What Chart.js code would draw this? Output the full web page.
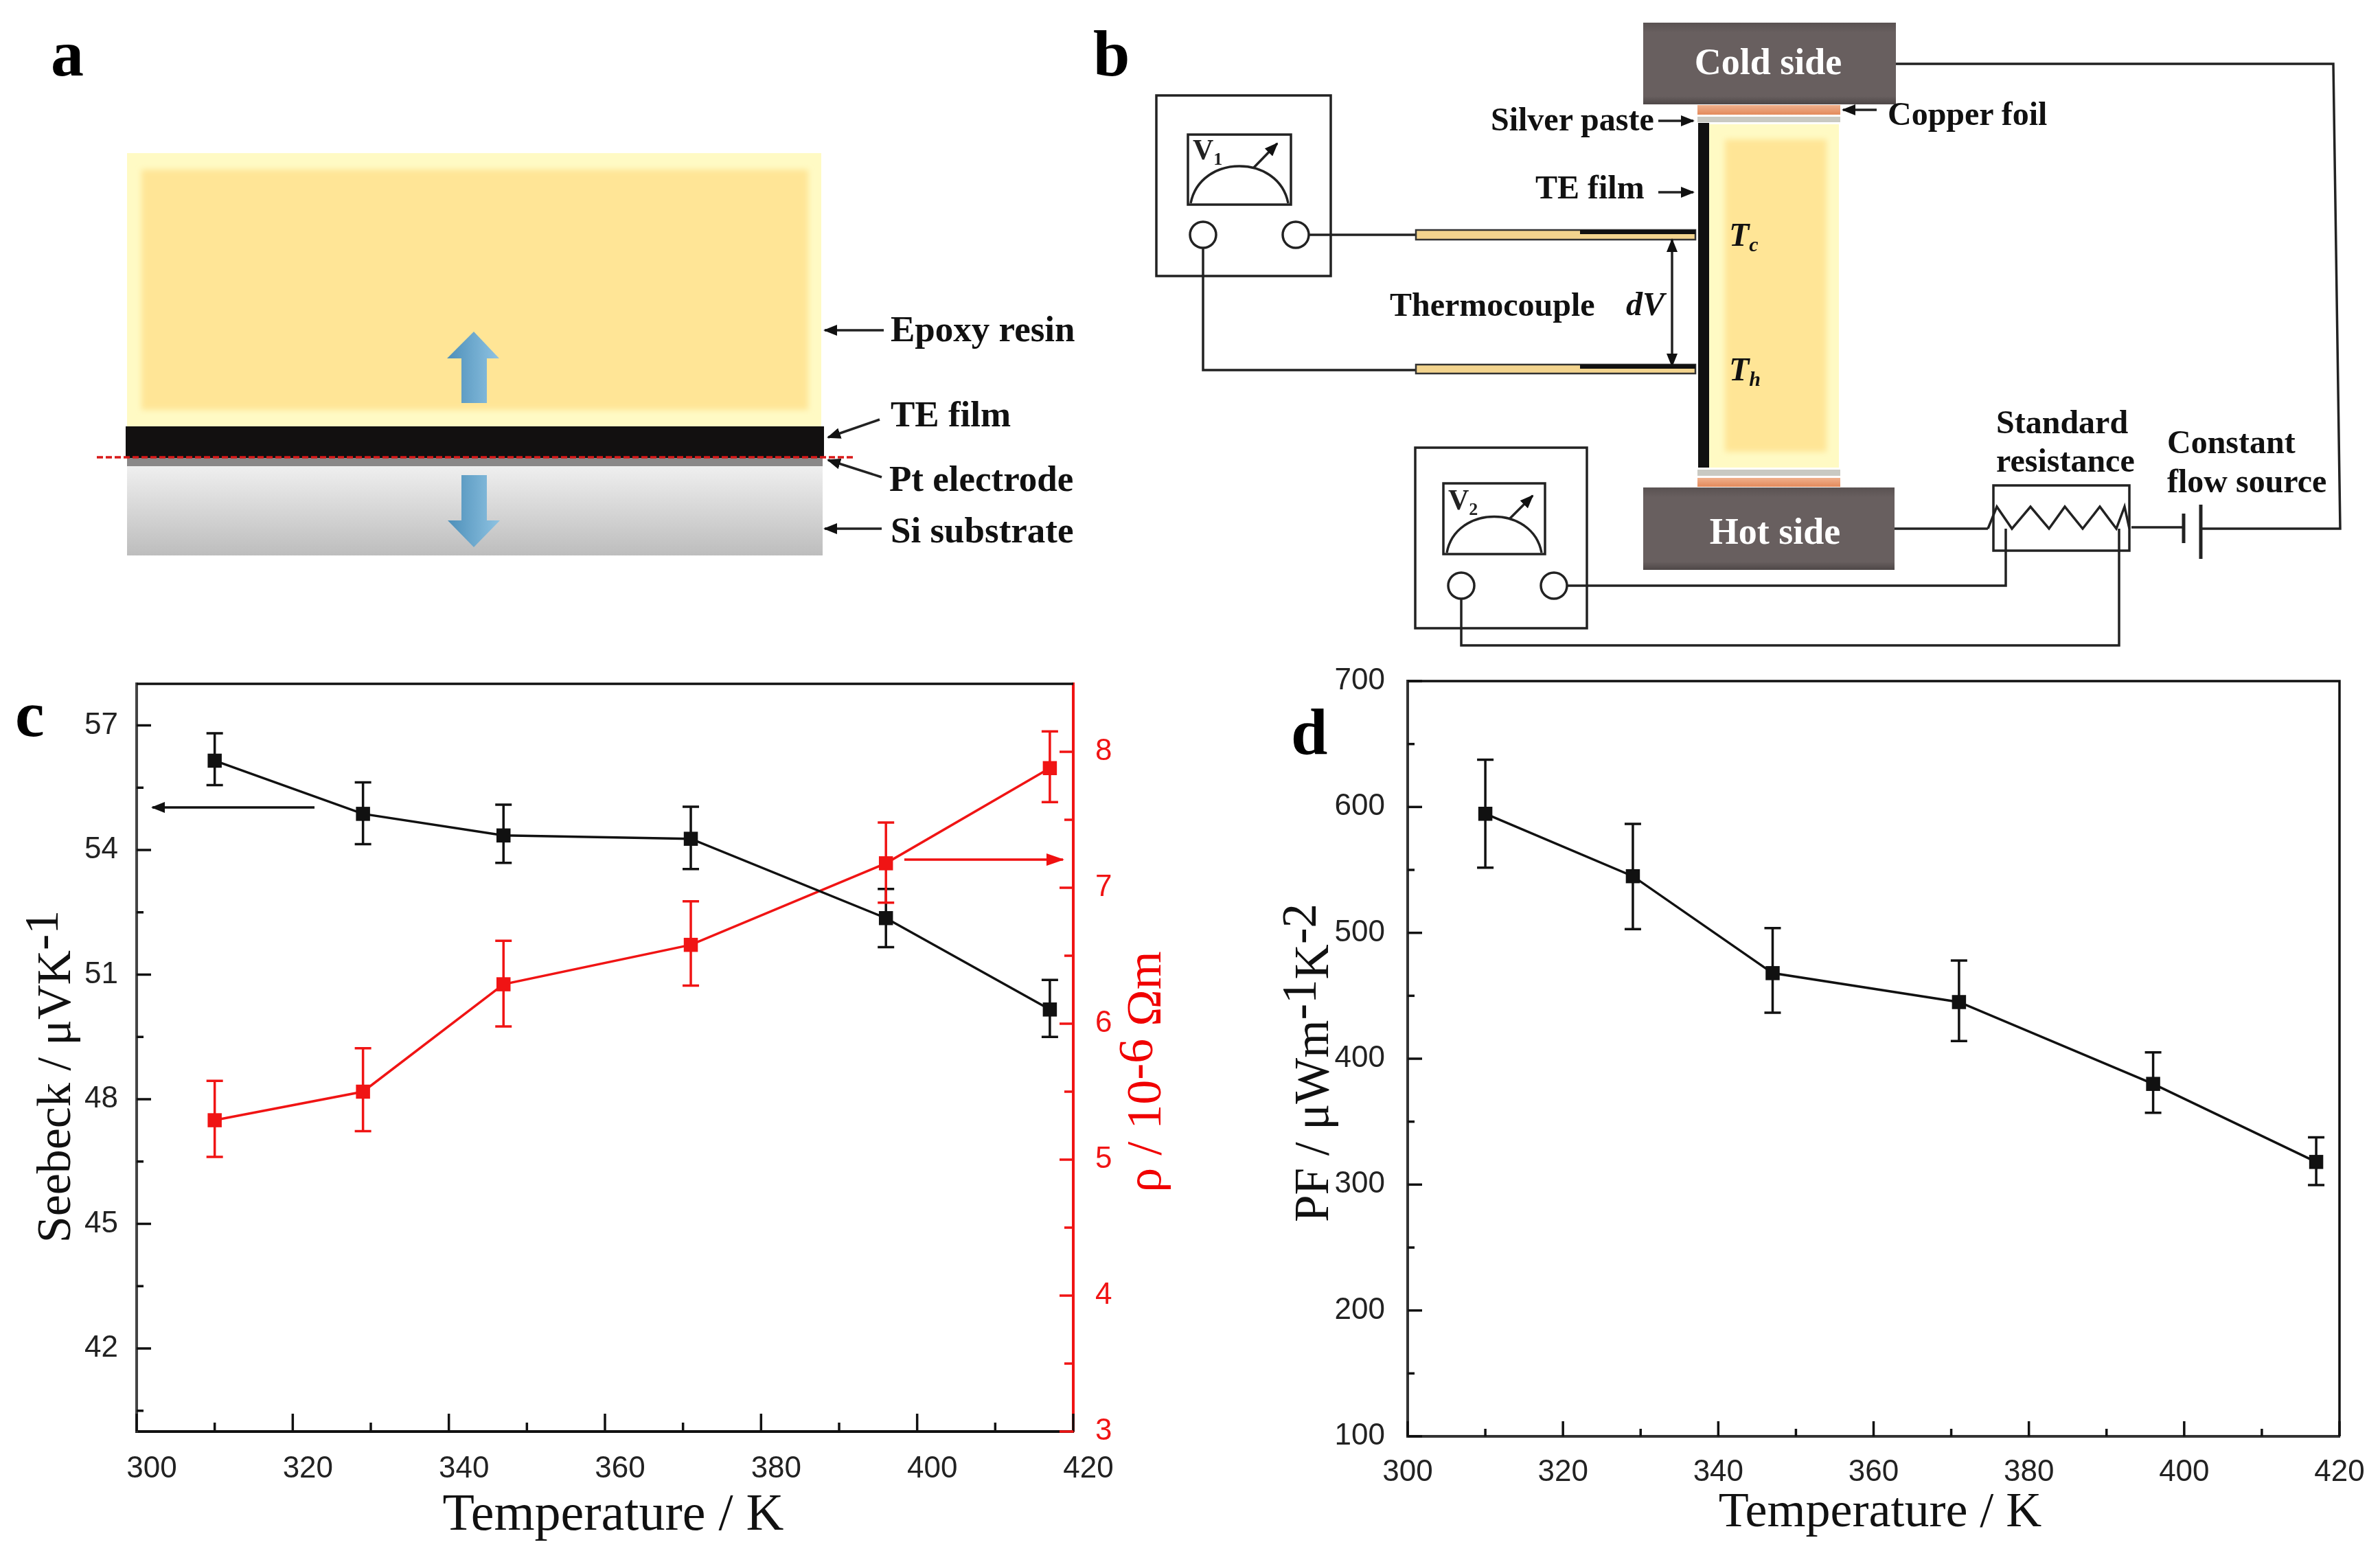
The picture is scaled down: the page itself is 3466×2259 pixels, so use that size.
<!DOCTYPE html>
<html>
<head>
<meta charset="utf-8">
<title>Thermoelectric film measurements</title>
<script src="https://cdn.jsdelivr.net/npm/chart.js@4"></script>
<style>
  html, body { margin: 0; background: #fff; }
  #page { position: relative; width: 3466px; height: 2259px; overflow: hidden; background: #fff; }
  canvas { position: absolute; }
  #chart-c { left: 0; top: 960px; }
  #chart-d { left: 1780px; top: 960px; }
  #overlay { position: absolute; left: 0; top: 0; pointer-events: none; }
  #overlay text { font-family: "Liberation Serif", serif; }
  .letter { font-size: 96px; font-weight: bold; }
  .lb { font-size: 53px; font-weight: bold; fill: #111; }
  .lb2 { font-size: 48px; font-weight: bold; fill: #111; }
  .it { font-size: 48px; font-weight: bold; font-style: italic; fill: #111; }
  .side { font-size: 54px; font-weight: bold; fill: #fff; text-anchor: middle; }
  .vm { font-size: 42px; font-weight: bold; fill: #222; }
  .ax { font-size: 72px; fill: #111; text-anchor: middle; }
  .w { fill: none; stroke: #222; stroke-width: 3.5; }
</style>
</head>
<body>
<div id="page">
  <canvas id="chart-c" width="1780" height="1299"></canvas>
  <canvas id="chart-d" width="1686" height="1299"></canvas>

  <svg id="overlay" width="3466" height="2259" viewBox="0 0 3466 2259">
    <defs>
      <marker id="ak" markerUnits="userSpaceOnUse" markerWidth="20" markerHeight="16" refX="18" refY="8" orient="auto-start-reverse">
        <path d="M0 0 L20 8 L0 16 Z" fill="#111"/>
      </marker>
      <marker id="ar" markerUnits="userSpaceOnUse" markerWidth="26" markerHeight="18" refX="24" refY="9" orient="auto">
        <path d="M0 0 L26 9 L0 18 Z" fill="#f01010"/>
      </marker>
      <linearGradient id="si" x1="0" y1="0" x2="0" y2="1">
        <stop offset="0" stop-color="#efefef"/><stop offset="1" stop-color="#bdbdbd"/>
      </linearGradient>
      <linearGradient id="blue" x1="0" y1="0" x2="1" y2="0">
        <stop offset="0" stop-color="#4d8fb9"/><stop offset="1" stop-color="#8fc3e2"/>
      </linearGradient>
      <linearGradient id="block" x1="0" y1="0" x2="0" y2="1">
        <stop offset="0" stop-color="#5a5252"/><stop offset="0.12" stop-color="#685f5f"/>
        <stop offset="0.9" stop-color="#685f5f"/><stop offset="1" stop-color="#4e4747"/>
      </linearGradient>
      <linearGradient id="copper" x1="0" y1="0" x2="0" y2="1">
        <stop offset="0" stop-color="#f0b08c"/><stop offset="1" stop-color="#e38a5c"/>
      </linearGradient>
      <filter id="soft" x="-5%" y="-5%" width="110%" height="110%">
        <feGaussianBlur stdDeviation="4"/>
      </filter>
    </defs>

    <!-- panel a -->
    <text class="letter" x="74" y="110">a</text>
    <rect x="185" y="223" width="1011" height="398" fill="#fffac4"/>
    <rect x="206" y="247" width="971" height="350" fill="#ffe596" filter="url(#soft)"/>
    <rect x="183" y="621" width="1017" height="46" fill="#121010"/>
    <rect x="185" y="667" width="1013" height="12" fill="#8a8888"/>
    <rect x="185" y="679" width="1013" height="130" fill="url(#si)"/>
    <line x1="141" y1="666" x2="1246" y2="666" stroke="#d81818" stroke-width="3.5" stroke-dasharray="9 4"/>
    <path d="M690 483 L727 522 L709 522 L709 587 L672 587 L672 522 L651 522 Z" fill="url(#blue)"/>
    <path d="M690 797 L728 758 L709 758 L709 692 L672 692 L672 758 L652 758 Z" fill="url(#blue)"/>
    <line class="w" x1="1287" y1="481" x2="1201" y2="481" marker-end="url(#ak)"/>
    <line class="w" x1="1281" y1="611" x2="1206" y2="637" marker-end="url(#ak)"/>
    <line class="w" x1="1284" y1="695" x2="1206" y2="670" marker-end="url(#ak)"/>
    <line class="w" x1="1284" y1="770" x2="1201" y2="770" marker-end="url(#ak)"/>
    <text class="lb" x="1297" y="497">Epoxy resin</text>
    <text class="lb" x="1297" y="621">TE film</text>
    <text class="lb" x="1295" y="715">Pt electrode</text>
    <text class="lb" x="1297" y="790">Si substrate</text>

    <!-- panel b -->
    <text class="letter" x="1592" y="110">b</text>
    <rect x="2393" y="33" width="368" height="119" fill="url(#block)"/>
    <rect x="2393" y="710" width="366" height="120" fill="url(#block)"/>
    <text class="side" x="2575" y="108">Cold side</text>
    <text class="side" x="2585" y="792">Hot side</text>
    <rect x="2472" y="153" width="208" height="14" fill="url(#copper)"/>
    <rect x="2472" y="170" width="208" height="8" fill="#c9c9c2"/>
    <rect x="2472" y="684" width="208" height="9" fill="#c9c9c2"/>
    <rect x="2472" y="696" width="208" height="13" fill="url(#copper)"/>
    <rect x="2489" y="181" width="189" height="500" fill="#fffac4"/>
    <rect x="2512" y="203" width="148" height="455" fill="#ffe596" filter="url(#soft)"/>
    <rect x="2473" y="179" width="16" height="502" fill="#111"/>

    <rect class="w" x="1684" y="139" width="254" height="263"/>
    <rect class="w" x="1730" y="196" width="150" height="102"/>
    <path class="w" d="M1734 296 C1748 224 1862 224 1876 296"/>
    <line class="w" x1="1825" y1="245" x2="1860" y2="209" marker-end="url(#ak)"/>
    <text class="vm" x="1737" y="232">V<tspan font-size="26" dy="8">1</tspan></text>
    <circle class="w" cx="1752" cy="342" r="19"/>
    <circle class="w" cx="1887" cy="342" r="19"/>
    <rect class="w" x="2061" y="652" width="250" height="263"/>
    <rect class="w" x="2102" y="704" width="148" height="103"/>
    <path class="w" d="M2107 805 C2120 735 2232 735 2245 805"/>
    <line class="w" x1="2198" y1="756" x2="2232" y2="722" marker-end="url(#ak)"/>
    <text class="vm" x="2109" y="742">V<tspan font-size="26" dy="8">2</tspan></text>
    <circle class="w" cx="2128" cy="853" r="19"/>
    <circle class="w" cx="2263" cy="853" r="19"/>

    <path class="w" d="M1906 342 L2062 342"/>
    <path class="w" d="M1752 361 L1752 539 L2062 539"/>
    <rect x="2062" y="335" width="407" height="14" fill="#f3d48e" stroke="#333" stroke-width="2.5"/>
    <rect x="2301" y="335" width="168" height="6" fill="#111"/>
    <rect x="2062" y="531" width="407" height="13" fill="#f3d48e" stroke="#333" stroke-width="2.5"/>
    <rect x="2301" y="531" width="168" height="6" fill="#111"/>
    <line class="w" x1="2435" y1="349" x2="2435" y2="533" marker-start="url(#ak)" marker-end="url(#ak)"/>
    <text class="lb2" x="2024" y="460">Thermocouple</text>
    <text class="it" x="2368" y="459">dV</text>
    <text class="it" x="2518" y="358">T<tspan font-size="30" dy="8">c</tspan></text>
    <text class="it" x="2518" y="554">T<tspan font-size="30" dy="8">h</tspan></text>
    <text class="lb2" x="2171" y="190">Silver paste</text>
    <line class="w" x1="2415" y1="176" x2="2466" y2="176" marker-end="url(#ak)"/>
    <text class="lb2" x="2749" y="182">Copper foil</text>
    <line class="w" x1="2733" y1="160" x2="2684" y2="160" marker-end="url(#ak)"/>
    <text class="lb2" x="2236" y="289">TE film</text>
    <line class="w" x1="2415" y1="280" x2="2466" y2="280" marker-end="url(#ak)"/>

    <path class="w" d="M2761 93 L3398 93 L3408 770 L3205 770"/>
    <path class="w" d="M2759 770 L2895 770"/>
    <path class="w" d="M3104 768 L3180 768"/>
    <line x1="3180" y1="748" x2="3180" y2="791" stroke="#222" stroke-width="5"/>
    <line x1="3205" y1="735" x2="3205" y2="814" stroke="#222" stroke-width="5"/>
    <rect class="w" x="2903" y="707" width="198" height="95"/>
    <path class="w" d="M2895 770 L2908 738 L2930 770 L2957 738 L2984 770 L3007 738 L3033 770 L3058 738 L3082 770 L3094 738 L3101 770"/>
    <path class="w" d="M2282 853 L2921 853 L2921 770"/>
    <path class="w" d="M2128 872 L2128 940 L3086 940 L3086 770"/>
    <text class="lb2" x="2907" y="631">Standard</text>
    <text class="lb2" x="2907" y="687">resistance</text>
    <text class="lb2" x="3156" y="660">Constant</text>
    <text class="lb2" x="3156" y="717">flow source</text>

    <!-- panel c annotations -->
    <text class="letter" x="22" y="1072">c</text>
    <line x1="458" y1="1176" x2="222" y2="1176" stroke="#111" stroke-width="3.5" marker-end="url(#ak)"/>
    <line x1="1317" y1="1252" x2="1548" y2="1252" stroke="#f01010" stroke-width="3.5" marker-end="url(#ar)"/>
    <text class="ax" x="893" y="2228" style="font-size:76px">Temperature / K</text>
    <text class="ax" transform="translate(102 1568) rotate(-90)" style="font-size:70px">Seebeck / μVK<tspan dy="-18">-1</tspan></text>
    <text class="ax" transform="translate(1690 1561) rotate(-90)" style="font-size:72px;fill:#f00000">ρ / 10<tspan dy="-12">-6</tspan><tspan dy="12"> Ωm</tspan></text>

    <!-- panel d annotations -->
    <text class="letter" x="1880" y="1098">d</text>
    <text class="ax" x="2738" y="2223">Temperature / K</text>
    <text class="ax" transform="translate(1934 1548) rotate(-90)" style="font-size:71px">PF / μWm<tspan dy="-18">-1</tspan><tspan dy="18">K</tspan><tspan dy="-18">-2</tspan></text>
  </svg>
</div>

<script>
const temperatures = [310, 329, 347, 371, 396, 417];

const seebeck = [56.15, 54.87, 54.35, 54.27, 52.36, 50.16];
const seebeckHigh = [56.81, 55.63, 55.09, 55.04, 53.06, 50.87];
const seebeckLow = [55.56, 54.14, 53.69, 53.54, 51.66, 49.5];

const rho = [5.29, 5.5, 6.29, 6.58, 7.18, 7.88];
const rhoHigh = [5.58, 5.82, 6.61, 6.9, 7.48, 8.15];
const rhoLow = [5.02, 5.21, 5.98, 6.28, 6.89, 7.63];

const powerFactor = [594.6, 545, 468, 445, 380, 318];
const powerHigh = [637.6, 586.5, 503.8, 478, 405, 337.6];
const powerLow = [551.8, 503, 436.5, 414, 357, 299.7];

const xTicks = [300, 310, 320, 330, 340, 350, 360, 370, 380, 390, 400, 410, 420];
const xLabels = [300, 320, 340, 360, 380, 400, 420];
const seebeckTicks = [40.5, 42, 43.5, 45, 46.5, 48, 49.5, 51, 52.5, 54, 55.5, 57];
const seebeckLabels = [42, 45, 48, 51, 54, 57];
const rhoTicks = [3, 3.5, 4, 4.5, 5, 5.5, 6, 6.5, 7, 7.5, 8];
const rhoLabels = [3, 4, 5, 6, 7, 8];
const powerTicks = [100, 150, 200, 250, 300, 350, 400, 450, 500, 550, 600, 650, 700];
const powerLabels = [100, 200, 300, 400, 500, 600, 700];

const black = '#111111';
const red = '#f01414';
const tickFont = { family: '"Liberation Sans", Arial, sans-serif', size: 44 };

Chart.defaults.animation = false;
Chart.defaults.responsive = false;
Chart.defaults.devicePixelRatio = 1;

function points(ys) {
    return temperatures.map((t, i) => ({ x: t, y: ys[i] }));
}

function series(ys, high, low, color, axisId) {
    return {
        data: points(ys),
        errHigh: high,
        errLow: low,
        yAxisID: axisId,
        borderColor: color,
        backgroundColor: color,
        borderWidth: 3.5,
        tension: 0,
        pointStyle: 'rect',
        pointRadius: 14.5,
        pointBorderWidth: 0,
        clip: false,
    };
}

// scale with fixed box size, ticks taken from the arrays above, drawn by inwardTicks
function axis(position, min, max, ticks, labels, size, color, padding, extra = {}) {
    const horizontal = position === 'bottom';
    return {
        type: 'linear',
        position,
        min,
        max,
        grid: { display: false },
        border: { color, width: 4 },
        afterBuildTicks: (scale) => {
            scale.ticks = ticks.map((value) => ({ value }));
        },
        afterFit: (scale) => {
            if (horizontal) {
                scale.height = size;
            } else {
                scale.width = size;
            }
            // tick labels may hang over the plot box, keep it where it was measured
            scale.paddingTop = 0;
            scale.paddingBottom = 0;
            scale.paddingLeft = 0;
            scale.paddingRight = 0;
        },
        ticks: {
            autoSkip: false,
            maxRotation: 0,
            color: color === red ? red : '#222222',
            font: tickFont,
            padding,
            callback: (value) => (labels.includes(value) ? String(value) : ''),
            ...extra,
        },
    };
}

// Chart.js has no inward or minor ticks, so draw them from each scale's own tick list
const inwardTicks = (specs) => ({
    id: 'inwardTicks',
    afterDraw(chart) {
        const { ctx, chartArea } = chart;
        ctx.save();
        specs.forEach(({ id, labels, color, long, short }) => {
            const scale = chart.scales[id];
            ctx.strokeStyle = color;
            ctx.lineWidth = 3.5;
            scale.ticks.forEach((tick, i) => {
                const len = labels.includes(tick.value) ? long : short;
                const p = scale.getPixelForTick(i);
                ctx.beginPath();
                if (scale.position === 'bottom') {
                    ctx.moveTo(p, chartArea.bottom);
                    ctx.lineTo(p, chartArea.bottom - len);
                } else if (scale.position === 'left') {
                    ctx.moveTo(chartArea.left, p);
                    ctx.lineTo(chartArea.left + len, p);
                } else {
                    ctx.moveTo(chartArea.right, p);
                    ctx.lineTo(chartArea.right - len, p);
                }
                ctx.stroke();
            });
        });
        ctx.restore();
    },
});

const errorBars = {
    id: 'errorBars',
    beforeDatasetsDraw(chart) {
        const { ctx } = chart;
        ctx.save();
        ctx.lineWidth = 3.5;
        chart.data.datasets.forEach((ds, d) => {
            const yScale = chart.scales[ds.yAxisID];
            ctx.strokeStyle = ds.borderColor;
            chart.getDatasetMeta(d).data.forEach((pt, i) => {
                const top = yScale.getPixelForValue(ds.errHigh[i]);
                const bottom = yScale.getPixelForValue(ds.errLow[i]);
                ctx.beginPath();
                ctx.moveTo(pt.x, top);
                ctx.lineTo(pt.x, bottom);
                ctx.moveTo(pt.x - 12, top);
                ctx.lineTo(pt.x + 12, top);
                ctx.moveTo(pt.x - 12, bottom);
                ctx.lineTo(pt.x + 12, bottom);
                ctx.stroke();
            });
        });
        ctx.restore();
    },
};

// the closing sides of the plot box
const frame = (sides) => ({
    id: 'frame',
    afterDraw(chart) {
        const { ctx, chartArea: a } = chart;
        ctx.save();
        ctx.strokeStyle = black;
        ctx.lineWidth = 3.5;
        ctx.beginPath();
        ctx.moveTo(a.left, a.top);
        ctx.lineTo(a.right, a.top);
        if (sides.includes('right')) {
            ctx.lineTo(a.right, a.bottom);
        }
        ctx.stroke();
        ctx.restore();
    },
});

new Chart(document.getElementById('chart-c'), {
    type: 'line',
    data: {
        datasets: [
            series(seebeck, seebeckHigh, seebeckLow, black, 'y'),
            series(rho, rhoHigh, rhoLow, red, 'y2'),
        ],
    },
    options: {
        layout: { padding: { top: 36 } },
        plugins: { legend: { display: false }, tooltip: { enabled: false } },
        scales: {
            x: axis('bottom', 300, 420, xTicks, xLabels, 174, black, 20, { labelOffset: 22 }),
            y: axis('left', 40, 58, seebeckTicks, seebeckLabels, 199, '#444444', 19),
            y2: axis('right', 3, 8.5, rhoTicks, rhoLabels, 217, red, 24),
        },
    },
    plugins: [
        errorBars,
        frame(['top']),
        inwardTicks([
            { id: 'x', labels: xLabels, color: black, long: 26, short: 13 },
            { id: 'y', labels: seebeckLabels, color: black, long: 21, short: 10 },
            { id: 'y2', labels: rhoLabels, color: red, long: 20, short: 13 },
        ]),
    ],
});

new Chart(document.getElementById('chart-d'), {
    type: 'line',
    data: {
        datasets: [series(powerFactor, powerHigh, powerLow, black, 'y')],
    },
    options: {
        layout: { padding: { top: 32, right: 59 } },
        plugins: { legend: { display: false }, tooltip: { enabled: false } },
        scales: {
            x: axis('bottom', 300, 420, xTicks, xLabels, 167, '#333333', 18),
            y: axis('left', 100, 700, powerTicks, powerLabels, 270, '#333333', 25),
        },
    },
    plugins: [
        errorBars,
        frame(['top', 'right']),
        inwardTicks([
            { id: 'x', labels: xLabels, color: black, long: 22, short: 11 },
            { id: 'y', labels: powerLabels, color: black, long: 21, short: 10 },
        ]),
    ],
});
</script>
</body>
</html>
